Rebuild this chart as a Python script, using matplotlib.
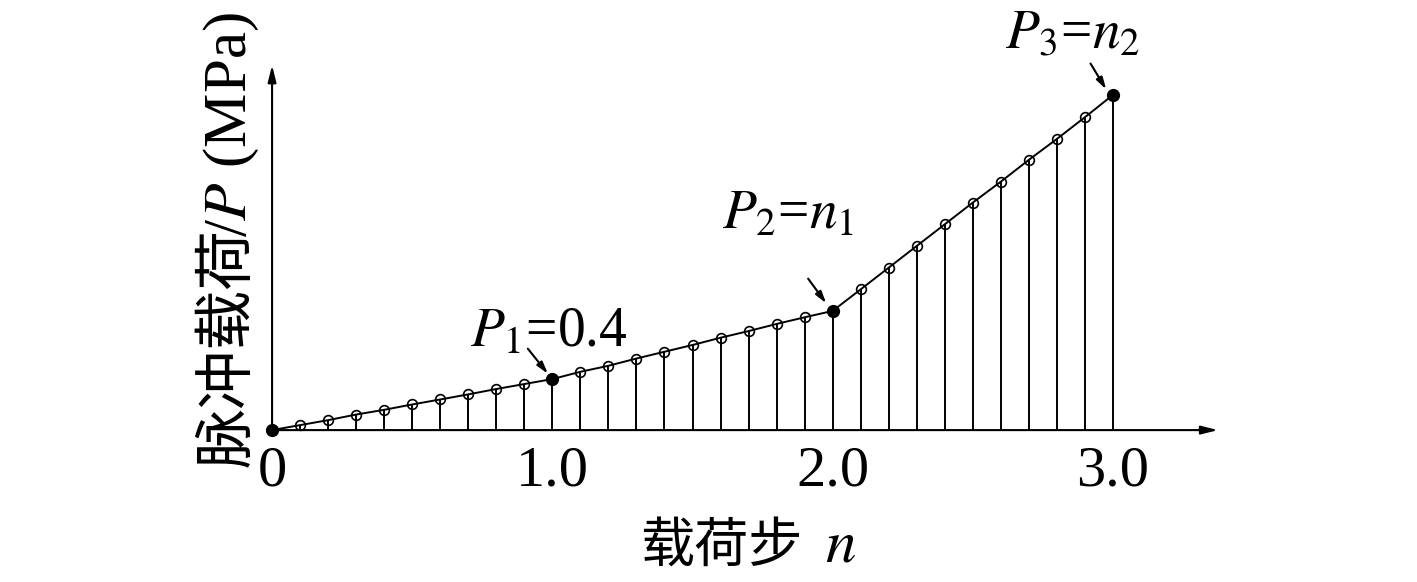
import numpy as np
import matplotlib.pyplot as plt

plt.rcParams['font.family'] = ['Liberation Serif', 'Noto Sans CJK SC']
plt.rcParams['mathtext.fontset'] = 'stix'

# ---- Data ----
load_steps = [0.0, 0.1, 0.2, 0.3, 0.4, 0.5, 0.6, 0.7, 0.8, 0.9, 1.0,
              1.1, 1.2, 1.3, 1.4, 1.5, 1.6, 1.7, 1.8, 1.9, 2.0,
              2.1, 2.2, 2.3, 2.4, 2.5, 2.6, 2.7, 2.8, 2.9, 3.0]
pulse_load = [0.0, 0.039, 0.078, 0.122, 0.159, 0.201, 0.240, 0.280, 0.322, 0.361, 0.400,
              0.457, 0.504, 0.561, 0.614, 0.667, 0.724, 0.776, 0.832, 0.884, 0.934,
              1.103, 1.273, 1.443, 1.613, 1.783, 1.947, 2.118, 2.282, 2.452, 2.627]
key_steps = [0.0, 1.0, 2.0, 3.0]
key_loads = [0.0, 0.400, 0.934, 2.627]
tick_positions = [0.0, 1.0, 2.0, 3.0]
tick_labels = ['0', '1.0', '2.0', '3.0']
key_labels = [r'$P_1$=0.4', r'$P_2$=$n_1$', r'$P_3$=$n_2$']

fig = plt.figure(figsize=(14.17, 5.82), dpi=100)
ax = fig.add_axes([0.192, 0.261, 0.6676, 0.627])
ax.set_xlim(0, 3.375)
ax.set_ylim(0, 2.86)

for side in ['top', 'right', 'left', 'bottom']:
    ax.spines[side].set_visible(False)

# axes with arrow heads
axis_arrow = dict(arrowstyle='-|>,head_length=1.0,head_width=0.25',
                  color='black', lw=1.5, shrinkA=0, shrinkB=0)
ax.annotate('', xy=(1, 0), xytext=(0, 0), xycoords='axes fraction', arrowprops=axis_arrow)
ax.annotate('', xy=(0, 1), xytext=(0, 0), xycoords='axes fraction', arrowprops=axis_arrow)

# stems, curve, markers
ax.vlines(load_steps[1:], 0, pulse_load[1:], color='black', lw=1.4)
ax.plot(load_steps, pulse_load, color='black', lw=1.4, marker='o', ms=7,
        mfc='none', mec='black', mew=1.2, clip_on=False)
ax.plot(key_steps, key_loads, ls='none', marker='o', ms=8.5, color='black',
        clip_on=False, zorder=3)

# annotations for key points
text_pos = [(0.705, 0.653), (1.605, 1.579), (2.616, 2.991)]
arrow_start = [(0.9125, 0.638), (1.9125, 1.187), (2.92, 2.873)]
arrow_end = [(0.984, 0.442), (1.977, 0.994), (2.976, 2.67)]
for (tx, ty), lab in zip(text_pos, key_labels):
    ax.text(tx, ty, lab, fontsize=40, ha='left', va='baseline', clip_on=False)
for (xs, ys), (xe, ye) in zip(arrow_start, arrow_end):
    ax.annotate('', xy=(xe, ye), xytext=(xs, ys), annotation_clip=False,
                arrowprops=dict(arrowstyle='-|>,head_length=0.7,head_width=0.2',
                                color='black', lw=1.5, shrinkA=0, shrinkB=0))

ax.set_xticks(tick_positions)
ax.set_xticklabels(tick_labels, fontsize=42)
ax.tick_params(axis='x', length=0, pad=11)
ax.set_yticks([])

# x label: Chinese part + italic n
fig.text(0.4517, 0.062, '载荷步', fontsize=39, ha='left', va='center',
         family='Noto Sans CJK SC')
fig.text(0.582, 0.036, r'$n$', fontsize=44, ha='left', va='baseline')

# y label: Chinese part + /P (MPa)
fig.text(0.161, 0.198, '脉冲载荷', fontsize=43, ha='center', va='bottom',
         rotation=90, family='Noto Sans CJK SC')
fig.text(0.163, 0.592, r'/$P$ (MPa)', fontsize=44, ha='center', va='bottom',
         rotation=90)

plt.savefig('out.png', dpi=100)
